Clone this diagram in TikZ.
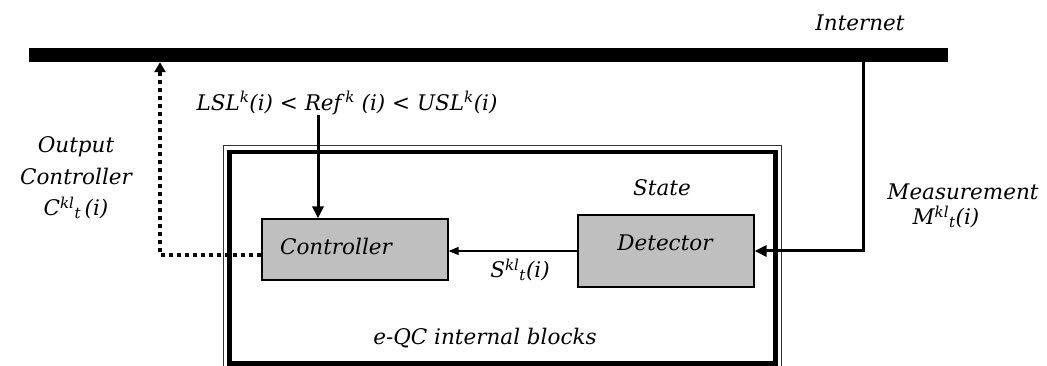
\documentclass[tikz,border=0pt]{standalone}
\usepackage{fontspec}
\setmainfont{DejaVu Serif}
\usetikzlibrary{arrows.meta}
\newcommand{\sbx}[1]{\textsuperscript{#1}}
\newcommand{\sbd}[1]{\textsubscript{#1}}
\begin{document}
\begin{tikzpicture}[x=1pt,y=-1pt,
  lbl/.style={font=\fontsize{21.5}{31.5}\selectfont\itshape, inner sep=0pt, text=black},
  block/.style={draw=black, line width=1.2pt, fill=black!25, minimum width=#1, inner sep=0pt},
  thickarrow/.style={line width=3pt, -{Triangle[width=11pt,length=12pt]}},
  thinarrow/.style={line width=1.2pt, -{Triangle[width=8pt,length=10pt]}},
  dotconn/.style={line width=4pt, dash pattern=on 4pt off 4pt, -{Triangle[width=11pt,length=10pt]}}
]
\useasboundingbox (0,0) rectangle (1047,366);
\fill[white] (0,0) rectangle (1047,366);

% Internet bar
\node[fill=black, inner sep=0pt, minimum width=919pt, minimum height=14pt] (bar) at (488.5,55) {};
\node[lbl] (inet) at (860,23) {Internet};

% outer frame (double line)
\draw[line width=1pt, black!80] (223,146) rectangle (781,372);
\draw[line width=4.5pt] (229.5,152) rectangle (775.5,363.5);

% blocks
\node[block=186pt, minimum height=61pt] (ctrl) at (355,249.5) {};
\node[lbl] (ctrlt) at (336,246) {Controller};
\node[block=176pt, minimum height=72pt] (det) at (666,251) {};
\node[lbl] (dett) at (665,243) {Detector};
\node[lbl] (state) at (662,188) {State};

% labels
\node[lbl] (ref) at (347,103) {LSL\sbx{k}(i) < Ref\,\sbx{k} (i) < USL\sbx{k}(i)};
\node[lbl, align=center] (outc) at (76,178) {Output\\Controller\\C\sbx{kl}\sbd{t}\,(i)};
\node[lbl] (slab) at (520,270) {S\sbx{kl}\sbd{t}(i)};
\node[lbl] (eqc) at (485,338) {e-QC internal blocks};
\node[lbl] (meas) at (963,192) {Measurement};
\node[lbl] (mlab) at (946,217) {M\sbx{kl}\sbd{t}(i)};

% connectors
\coordinate (refin) at (318,115);
\draw[thickarrow] (refin) -- (refin |- ctrl.north);

\coordinate (mtap) at (863,62);
\draw[thickarrow] (mtap) |- (det.east);

\draw[thinarrow] (det.west) -- (det.west -| ctrl.east);

\coordinate (cout) at (160,255);
\draw[dotconn] (ctrl.west |- cout) -- (cout) -- (cout |- bar.south);
\end{tikzpicture}
\end{document}
